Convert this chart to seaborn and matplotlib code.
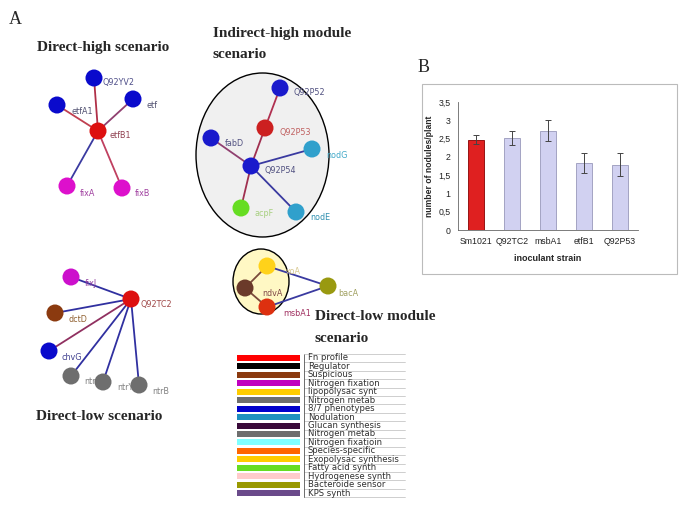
import numpy as np
import pandas as pd
import seaborn as sns
import matplotlib.pyplot as plt
from matplotlib.patches import Ellipse, Rectangle

sns.set_style("white")

# === Bar chart data (panel B) ===
strains = ["Sm1021", "Q92TC2", "msbA1", "etfB1", "Q92P53"]
nodules = [2.47, 2.52, 2.72, 1.83, 1.79]
nodules_err = [0.12, 0.20, 0.28, 0.27, 0.32]
bar_colors = ["#FF0000", "#CCCCF6", "#CCCCF6", "#CCCCF6", "#CCCCF6"]
yticks = [0, 0.5, 1, 1.5, 2, 2.5, 3, 3.5]
ytick_labels = ["0", "0,5", "1", "1,5", "2", "2,5", "3", "3,5"]

# === Network nodes (panel A, layout in pixel space) ===
node_names = ["Q92YV2", "etfA1", "etf", "etfB1", "fixA", "fixB",
              "Q92P52", "Q92P53", "fabD", "nodG", "Q92P54", "acpF", "nodE",
              "fixJ", "Q92TC2", "dctD", "chvG", "ntrX", "ntrY", "ntrB",
              "exoA", "ndvA", "msbA1", "bacA"]
node_x = [94, 57, 133, 98, 67, 122,
          280, 265, 211, 312, 251, 241, 296,
          71, 131, 55, 49, 71, 103, 139,
          267, 245, 267, 328]
node_y = [78, 105, 99, 131, 186, 188,
          88, 128, 138, 149, 166, 208, 212,
          277, 299, 313, 351, 376, 382, 385,
          266, 288, 307, 286]
node_colors = ["#0A0ACC", "#0A0ACC", "#0A0ACC", "#DD1010", "#DD10CC", "#DD10CC",
               "#1A1ACC", "#CC2020", "#1A1ACC", "#30A0CC", "#1A1ACC", "#66DD22", "#30A0CC",
               "#CC10CC", "#DD1010", "#8B3A0F", "#0A0ACC", "#6E6E6E", "#6E6E6E", "#6E6E6E",
               "#FFD21A", "#6B3A2A", "#DD3010", "#999910"]
label_x = [119, 82, 152, 120, 88, 143,
           309, 295, 234, 337, 280, 264, 320,
           91, 156, 78, 72, 90, 125, 161,
           293, 272, 297, 348]
label_y = [83, 111, 105, 136, 193, 193,
           93, 133, 144, 155, 171, 213, 218,
           283, 305, 319, 357, 382, 388, 391,
           271, 294, 313, 293]
label_colors = ["#50508A", "#505070", "#505070", "#904050", "#A040A0", "#A040A0",
                "#505080", "#C06060", "#505080", "#40A8C8", "#505080", "#A8D080", "#3090B0",
                "#9040A0", "#A04848", "#906030", "#404090", "#808080", "#808080", "#808080",
                "#D8C890", "#804848", "#A03060", "#A0A060"]

# edges: (source, target, colour)
edges = [("etfB1", "Q92YV2", "#B03048"), ("etfB1", "etfA1", "#C04050"),
         ("etfB1", "etf", "#904070"), ("etfB1", "fixA", "#3A3AA0"),
         ("etfB1", "fixB", "#C04060"),
         ("Q92P52", "Q92P53", "#B03050"), ("Q92P53", "Q92P54", "#A03050"),
         ("fabD", "Q92P54", "#904070"), ("nodG", "Q92P54", "#3A3AA0"),
         ("nodE", "Q92P54", "#3A3AA0"), ("acpF", "Q92P54", "#A03050"),
         ("Q92TC2", "fixJ", "#3030A0"), ("Q92TC2", "dctD", "#3030A0"),
         ("Q92TC2", "chvG", "#903060"), ("Q92TC2", "ntrX", "#3030A0"),
         ("Q92TC2", "ntrY", "#3030A0"), ("Q92TC2", "ntrB", "#3030A0"),
         ("exoA", "ndvA", "#7A4A3A"), ("ndvA", "msbA1", "#7A4A3A"),
         ("exoA", "bacA", "#3A3AA0"), ("msbA1", "bacA", "#3A3AA0")]

# === Legend table ===
legend_labels = ["Fn profile", "Regulator", "Suspicious", "Nitrogen fixation",
                 "lipopolysac synt", "Nitrogen metab", "8/7 phenotypes", "Nodulation",
                 "Glucan synthesis", "Nitrogen metab", "Nitrogen fixatioin",
                 "Species-specific", "Exopolysac synthesis", "Fatty acid synth",
                 "Hydrogenese synth", "Bacteroide sensor", "KPS synth"]
legend_colors = ["#FF0000", "#000000", "#8B3A0F", "#C000C0", "#FFCC00", "#6E6E6E",
                 "#0000CC", "#1E90C0", "#3A0A3A", "#6E6E6E", "#80FFFF", "#FF6600",
                 "#FFCC00", "#66DD22", "#FFCCCC", "#999900", "#6A4A8A"]

nodes = pd.DataFrame({"name": node_names, "x": node_x, "y": node_y})
pos = dict(zip(node_names, zip(node_x, node_y)))

fig = plt.figure(figsize=(6.85, 5.13), dpi=100)
ax = fig.add_axes([0, 0, 1, 1])
ax.set_xlim(0, 685)
ax.set_ylim(513, 0)
ax.axis("off")

serif = "Liberation Serif"
arial = "Liberation Sans"

# module ellipses
ax.add_patch(Ellipse((262.5, 155), 133, 164, facecolor="#F0F0F0",
                     edgecolor="black", lw=1.0, zorder=0))
ax.add_patch(Ellipse((261, 281.5), 56, 65, facecolor="#FFF8C4",
                     edgecolor="black", lw=1.0, zorder=0))

# edges
for a, b, c in edges:
    ax.plot([pos[a][0], pos[b][0]], [pos[a][1], pos[b][1]], color=c, lw=1.3, zorder=1)

# labels (under the nodes so they can be partly hidden)
for name, lx, ly, lc in zip(node_names, label_x, label_y, label_colors):
    txt = name
    if name == "ntrX":
        txt = "ntr"
    if name == "exoA":
        txt = "xoA"
    ax.text(lx, ly, txt, color=lc, fontsize=5.8, ha="center", va="center", zorder=2)

# nodes
sns.scatterplot(data=nodes, x="x", y="y", hue="name",
                palette=dict(zip(node_names, node_colors)),
                s=150, linewidth=0, legend=False, ax=ax, zorder=3)
ax.set_xlabel("")
ax.set_ylabel("")

# titles
tkw = dict(fontsize=11, family=serif, fontweight="bold", va="center")
ax.text(15, 20, "A", fontsize=13, family=serif, ha="center", va="center")
ax.text(103, 48, "Direct-high scenario", ha="center", **tkw)
ax.text(213, 33, "Indirect-high module", ha="left", **tkw)
ax.text(213, 54, "scenario", ha="left", **tkw)
ax.text(99, 416, "Direct-low scenario", ha="center", **tkw)
ax.text(315, 316, "Direct-low module", ha="left", **tkw)
ax.text(315, 338, "scenario", ha="left", **tkw)
ax.text(424, 67, "B", fontsize=13, family=serif, ha="center", va="center")

# legend table
row0, dy = 358, 8.44
n = len(legend_labels)
for i, (lab, col) in enumerate(zip(legend_labels, legend_colors)):
    yc = row0 + i * dy
    ax.add_patch(Rectangle((237, yc - 3), 63, 6, facecolor=col, edgecolor="none"))
    ax.text(308, yc, lab, fontsize=6.1, ha="left", va="center", color="#303030")
    ax.plot([304, 405], [yc + dy / 2, yc + dy / 2], color="#BBBBBB", lw=0.5)
ax.plot([304, 304], [row0 - dy / 2, row0 + (n - 0.5) * dy], color="#555555", lw=0.6)
ax.plot([304, 405], [row0 - dy / 2, row0 - dy / 2], color="#BBBBBB", lw=0.5)

# panel B frame
ax.add_patch(Rectangle((422, 84), 255, 190, facecolor="white",
                       edgecolor="#BBBBBB", lw=0.8, zorder=0))

# panel B bar chart
bx = fig.add_axes([458 / 685, 1 - 230 / 513, 180 / 685, 128 / 513])
bars = pd.DataFrame({"strain": strains, "nodules": nodules})
sns.barplot(data=bars, x="strain", y="nodules", hue="strain",
            palette=dict(zip(strains, bar_colors)), errorbar=None,
            width=0.42, edgecolor="#9999BB", linewidth=0.6, legend=False, ax=bx)
bx.patches[0].set_edgecolor("#880000")
bx.errorbar(x=np.arange(len(strains)), y=nodules, yerr=nodules_err, fmt="none",
            ecolor="#444444", elinewidth=0.7, capsize=2.5, capthick=0.7)
bx.set_xlim(-0.5, len(strains) - 0.5)
bx.set_ylim(0, 3.5)
bx.set_yticks(yticks)
bx.set_yticklabels(ytick_labels)
bx.tick_params(axis="both", labelsize=6.3, length=2, width=0.6, colors="#222222")
bx.tick_params(axis="x", length=0, pad=5)
for t in bx.get_xticklabels() + bx.get_yticklabels():
    t.set_family(arial)
bx.set_xlabel("inoculant strain", fontsize=6.5, fontweight="bold", labelpad=6, family=arial)
bx.set_ylabel("number of nodules/plant", fontsize=6.2, fontweight="bold", labelpad=3,
              family=arial)
for side in ["top", "right"]:
    bx.spines[side].set_visible(False)
for side in ["left", "bottom"]:
    bx.spines[side].set_color("#666666")
    bx.spines[side].set_linewidth(0.6)
bx.set_facecolor("white")

fig.savefig("out.png", dpi=100)
